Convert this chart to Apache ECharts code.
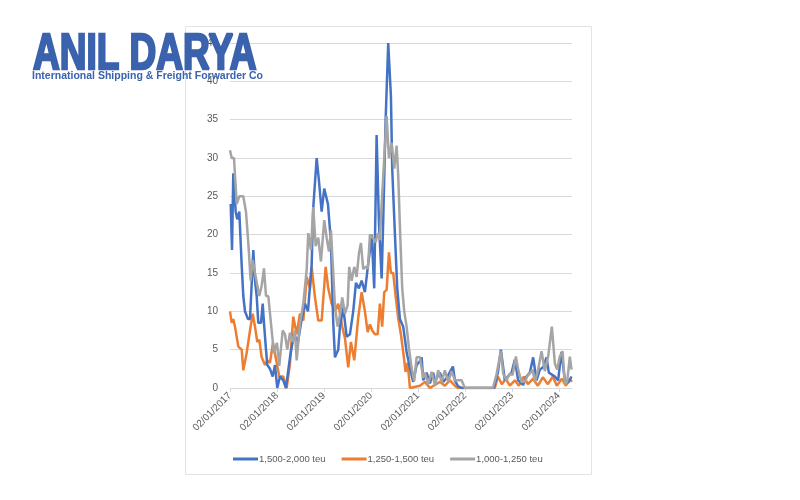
<!DOCTYPE html>
<html>
<head>
<meta charset="utf-8">
<script src="https://cdn.jsdelivr.net/npm/echarts@6/dist/echarts.min.js"></script>
<style>html,body{margin:0;padding:0;background:#fff;}#c{width:800px;height:500px;}</style>
</head>
<body>
<div id="c"></div>
<script>
// x values: years since 02/01/2017
const seriesNames = ['1,500-2,000 teu', '1,250-1,500 teu', '1,000-1,250 teu'];
const yearLabels = ['02/01/2017','02/01/2018','02/01/2019','02/01/2020','02/01/2021','02/01/2022','02/01/2023','02/01/2024'];

const blueT = [0.015,0.043,0.070,0.121,0.155,0.198,0.249,0.283,0.319,0.383,0.426,0.496,0.532,0.568,0.602,0.660,0.696,0.723,0.766,0.794,0.851,0.909,0.957,1.006,1.064,1.134,1.191,1.277,1.362,1.447,1.526,1.596,1.660,1.738,1.772,1.845,1.894,1.951,2.006,2.085,2.149,2.198,2.234,2.304,2.340,2.411,2.483,2.553,2.623,2.681,2.745,2.802,2.872,2.930,2.979,3.015,3.070,3.121,3.170,3.228,3.262,3.313,3.368,3.426,3.453,3.511,3.560,3.617,3.687,3.760,3.830,3.900,3.972,4.043,4.079,4.113,4.185,4.255,4.326,4.362,4.398,4.468,4.538,4.611,4.745,4.787,4.857,4.936,5.617,5.702,5.766,5.851,5.915,5.994,6.064,6.134,6.240,6.311,6.383,6.453,6.525,6.596,6.666,6.738,6.787,6.915,6.985,7.055,7.128,7.198,7.270];
const blueV = [24,18,28,23,22,23,16,12,10,9,9,18,14,12,8.5,8.5,11,8.5,5,3,2.5,1.5,3,0,1.5,1,0,4,7,6,9,11,10,16,23.5,30,27,23,26,24,19,8.5,4,5,8,10.5,6.7,7,10,13.7,13,14,12.5,15.6,18,20,13,33,21.6,14.3,22,35,45,38,28.6,20,13,9,8,4.7,2.6,0.8,3,3.5,4,1,2,0.6,2,0.6,1.3,2,0.8,1.3,2.8,1,0.2,0,0,2,5,1,1.5,2,3.7,1,0.4,1.5,2,4,1,2.4,2.7,4,2,1.5,1,4.7,1,0.7,1.5];

const orangeT = [0.000,0.036,0.070,0.106,0.177,0.249,0.283,0.355,0.426,0.483,0.532,0.581,0.623,0.674,0.745,0.794,0.851,0.915,0.994,1.049,1.134,1.206,1.277,1.347,1.419,1.489,1.560,1.632,1.702,1.738,1.809,1.879,1.951,2.036,2.091,2.164,2.234,2.304,2.389,2.447,2.517,2.574,2.645,2.730,2.802,2.872,2.930,2.979,3.028,3.085,3.143,3.191,3.240,3.283,3.334,3.383,3.426,3.474,3.526,3.581,3.638,3.687,3.738,3.781,3.830,4.043,4.149,4.255,4.468,4.574,4.681,4.787,4.851,5.638,5.702,5.787,5.872,5.957,6.064,6.149,6.255,6.340,6.447,6.553,6.660,6.766,6.872,6.957,7.064,7.149,7.234,7.277];
const orangeV = [10,8.5,9,8,5.4,5,2.3,4.6,7.5,9.7,8,6,6.3,4,3,3.6,3.3,5.9,3.3,1.5,1.5,0,3.2,9.3,7,9.7,8.8,14.5,13,15.8,11.8,8.8,8.8,15.8,13,11,10,11,8,6.5,2.7,6,3.6,9.2,12.5,10,7.3,8.3,7.5,7,7,11,8,12.5,12.8,17.7,15,15,12,9.1,7,4.7,2.1,3.3,0,0.3,0.8,0,0.8,0.3,1,0.3,0,0,1.5,0.5,1.2,0.3,1,0.3,1.5,0.5,1.2,0.3,1.4,0.5,1.5,0.3,1.2,0.3,1.2,0.8];

const grayT = [0.000,0.036,0.085,0.143,0.198,0.283,0.340,0.389,0.440,0.483,0.532,0.568,0.623,0.674,0.723,0.766,0.815,0.887,0.936,1.000,1.049,1.121,1.170,1.219,1.277,1.334,1.383,1.419,1.489,1.560,1.632,1.666,1.723,1.772,1.823,1.879,1.936,2.006,2.057,2.106,2.149,2.198,2.234,2.291,2.340,2.389,2.447,2.504,2.538,2.589,2.645,2.696,2.745,2.787,2.836,2.887,2.936,2.979,3.049,3.102,3.143,3.191,3.228,3.283,3.334,3.383,3.440,3.496,3.547,3.581,3.623,3.666,3.709,3.760,3.809,3.866,3.921,3.972,4.043,4.113,4.149,4.219,4.291,4.362,4.432,4.504,4.574,4.645,4.717,4.787,4.930,5.000,5.596,5.674,5.766,5.815,5.887,5.957,6.015,6.085,6.134,6.206,6.277,6.326,6.383,6.440,6.489,6.560,6.632,6.702,6.772,6.851,6.915,6.964,7.021,7.079,7.128,7.177,7.234,7.270];
const grayV = [31,30,30,24,25,25,23,19,14,16.7,15,14.8,12,13.3,15.6,12,12,7.5,4.5,5.9,2.9,7.5,7,5,7.2,6,7.5,3.6,8.3,11,15.4,20.2,18,23.6,18.5,19.6,16.5,21.9,19.6,17.8,20.6,15,10.6,8,9.5,11.8,9.7,10.8,15.8,14,15.8,14.5,17.6,18.9,15.5,15.8,15.6,20,19.5,19,20.2,19.3,24,30,35.5,30,32,28.6,31.6,27.7,20,13,10,8,5.2,2.6,0.9,4,4,1.3,2,0.5,2.1,0.4,2.3,0.8,2.3,0.8,2.2,1,1,0,0,1.8,4.8,1.9,1,1.9,1.7,4.1,2.4,0.8,0.8,1.5,1.9,2.4,0.8,2.4,4.8,2.2,4.1,8,3.2,2.4,4.1,4.8,0.6,0.8,4.1,2.4];

const pair = (T, V) => T.map((t, i) => [t, V[i]]);
const chart = echarts.init(document.getElementById('c'), null, {renderer: 'canvas'});
const txt = '#595959';
chart.setOption({
  animation: false,
  backgroundColor: '#fff',
  color: ['#4472C4', '#ED7D31', '#A5A5A5'],
  grid: {left: 230, right: 228, top: 43, bottom: 112, containLabel: false},
  legend: {
    bottom: 31, left: 228, itemGap: 16,
    icon: 'rect', itemWidth: 25, itemHeight: 3,
    textStyle: {color: txt, fontSize: 9.5, fontFamily: 'Liberation Sans', padding: [0, 0, 0, -4]},
    data: seriesNames
  },
  xAxis: {
    type: 'value', min: 0, max: 7.28, interval: 1,
    axisLine: {show: true, lineStyle: {color: '#d9d9d9'}},
    axisTick: {show: true, length: 4, lineStyle: {color: '#d9d9d9'}},
    splitLine: {show: false},
    axisLabel: {
      rotate: 45, color: txt, fontSize: 10, fontFamily: 'Liberation Sans', margin: 6,
      showMaxLabel: false,
      formatter: v => (Math.abs(v - Math.round(v)) < 1e-6 && yearLabels[Math.round(v)]) ? yearLabels[Math.round(v)] : ''
    }
  },
  yAxis: {
    type: 'value', min: 0, max: 45, interval: 5,
    axisLine: {show: false}, axisTick: {show: false},
    splitLine: {lineStyle: {color: '#d9d9d9'}},
    axisLabel: {color: txt, fontSize: 10, fontFamily: 'Liberation Sans', margin: 12}
  },
  series: [
    {name: seriesNames[0], type: 'line', showSymbol: false, data: pair(blueT, blueV), lineStyle: {width: 2.5}, z: 3},
    {name: seriesNames[1], type: 'line', showSymbol: false, data: pair(orangeT, orangeV), lineStyle: {width: 2.5}, z: 2},
    {name: seriesNames[2], type: 'line', showSymbol: false, data: pair(grayT, grayV), lineStyle: {width: 2.5}, z: 4}
  ],
  graphic: [
    {type: 'rect', left: 183, top: 24, z: -10, shape: {width: 406, height: 448}, style: {fill: 'none', stroke: '#e3e3e3', lineWidth: 1}},
    {type: 'text', x: 33, y: 30, scaleX: 0.74, z: 100, style: {text: 'ANIL DARYA', font: '900 50px "Liberation Sans"', fill: '#3a62ad', stroke: '#3a62ad', lineWidth: 2.5, textVerticalAlign: 'top'}},
    {type: 'text', x: 32, y: 71, z: 100, style: {text: 'International Shipping & Freight Forwarder Co', font: 'bold 10.5px "Liberation Sans"', fill: '#3a62ad', textVerticalAlign: 'top'}}
  ]
});
</script>
</body>
</html>
